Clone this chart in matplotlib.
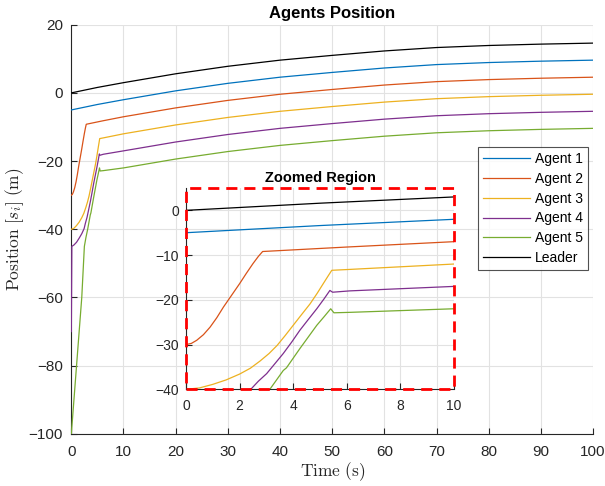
import matplotlib
matplotlib.use("Agg")
import matplotlib.pyplot as plt
from matplotlib.patches import Rectangle

plt.rcParams['font.family'] = ['Liberation Sans', 'DejaVu Sans']
plt.rcParams['mathtext.fontset'] = 'cm'

# ---- data ----
t_leader = [0, 5, 10, 20, 30, 40, 50, 60, 70, 80, 90, 100]
leader = [0, 1.6, 3.0, 5.6, 7.8, 9.6, 11.0, 12.3, 13.3, 13.9, 14.3, 14.6]

t_a1 = [0, 5, 10, 20, 30, 40, 50, 60, 70, 80, 90, 100]
agent1 = [-5, -3.4, -2.0, 0.6, 2.8, 4.6, 6.0, 7.3, 8.3, 8.9, 9.3, 9.6]

t_a2 = [0, 0.2, 0.4, 0.65, 0.9, 1.15, 1.4, 1.7, 2.0, 2.25, 2.5, 2.7, 2.86, 6.0, 10,
        20, 30, 40, 50, 60, 70, 80, 90, 100]
agent2 = [-30, -29.75, -29.05, -27.8, -26.1, -24.0, -21.6, -19.0, -16.4, -14.1, -11.9,
          -10.3, -9.2, -8.2, -7.0, -4.4, -2.2, -0.4, 1.0, 2.3, 3.3, 3.9, 4.3, 4.6]

t_a3 = [0, 0.5, 1.0, 1.5, 2.0, 2.4, 2.76, 3.1, 3.4, 3.7, 4.0, 4.3, 4.63, 4.9, 5.12,
        5.3, 5.44, 6.12, 10, 20, 30, 40, 50, 60, 70, 80, 90, 100]
agent3 = [-40, -39.7, -38.9, -37.9, -36.6, -35.3, -33.7, -32.0, -30.2, -28.0, -25.7,
          -23.4, -20.9, -18.5, -16.4, -14.7, -13.4, -13.2, -12.0, -9.4, -7.2, -5.4,
          -4.0, -2.7, -1.7, -1.1, -0.7, -0.4]

t_a4 = [0, 0.1, 0.5, 1.0, 1.5, 2.0, 2.45, 2.7, 3.01, 3.3, 3.63, 3.95, 4.25, 4.55,
        4.88, 5.15, 5.37, 5.47, 6.12, 10, 20, 30, 40, 50, 60, 70, 80, 90, 100]
agent4 = [-70, -45, -44.6, -43.8, -42.6, -41.3, -39.8, -38.2, -36.5, -34.4, -32.0,
          -29.4, -26.8, -24.5, -22.0, -19.8, -17.9, -18.3, -18.0, -17.0, -14.4, -12.2,
          -10.4, -9.0, -7.7, -6.7, -6.1, -5.7, -5.4]

t_a5 = [0, 1.0, 2.0, 2.5, 2.8, 3.13, 3.63, 3.75, 4.25, 4.88, 5.15, 5.40, 5.52, 6.12,
        10, 20, 30, 40, 50, 60, 70, 80, 90, 100]
agent5 = [-100, -80, -60, -45, -42.4, -40, -35.8, -35.2, -30.9, -25.7, -23.8, -22.0,
          -22.9, -22.8, -22.0, -19.4, -17.2, -15.4, -14.0, -12.7, -11.7, -11.1, -10.7,
          -10.4]

series = [
    ("Agent 1", t_a1, agent1, "#0072BD"),
    ("Agent 2", t_a2, agent2, "#D95319"),
    ("Agent 3", t_a3, agent3, "#EDB120"),
    ("Agent 4", t_a4, agent4, "#7E2F8E"),
    ("Agent 5", t_a5, agent5, "#77AC30"),
    ("Leader", t_leader, leader, "#000000"),
]

main_xticks = list(range(0, 101, 10))
main_yticks = list(range(-100, 21, 20))
inset_xticks = [0, 2, 4, 6, 8, 10]
inset_yticks = [-40, -30, -20, -10, 0]

axc = "#262626"
gridc = "#e2e2e2"

fig = plt.figure(figsize=(6.05, 4.86), dpi=100)
ax = fig.add_axes([0.1179, 0.1072, 0.8623, 0.842])

for name, t, v, c in series:
    ax.plot(t, v, color=c, lw=0.9, label=name, zorder=3)

ax.set_xlim(0, 100)
ax.set_ylim(-100, 20)
ax.set_xticks(main_xticks)
ax.set_yticks(main_yticks)
ax.grid(True, color=gridc, lw=0.8)
ax.set_axisbelow(True)
for s in ["top", "right"]:
    ax.spines[s].set_visible(False)
for s in ["left", "bottom"]:
    ax.spines[s].set_color(axc)
    ax.spines[s].set_linewidth(0.8)
ax.tick_params(direction="in", length=4, width=0.8, colors=axc, labelsize=11,
               labelcolor=axc)
ax.tick_params(axis="x", pad=8)
ax.tick_params(axis="y", pad=6)
ax.set_title("Agents Position", fontsize=12, fontweight="bold", pad=4.5)
ax.set_xlabel(r"$\mathrm{Time\ (s)}$", fontsize=12.5, color=axc, labelpad=1)
ax.set_ylabel(r"$\mathrm{Position}\ [s_i]\ \mathrm{(m)}$", fontsize=12.5, color=axc,
              labelpad=2)

leg = ax.legend(loc="upper right", bbox_to_anchor=(0.991, 0.701), fontsize=10,
                frameon=True, fancybox=False, handlelength=3.4, handletextpad=0.35,
                borderpad=0.35, labelspacing=0.42, borderaxespad=0)
leg.get_frame().set_edgecolor(axc)
leg.get_frame().set_linewidth(0.8)

# inset
axi = fig.add_axes([0.3074, 0.199, 0.443, 0.4142])
axi.patch.set_alpha(0)
for name, t, v, c in series:
    axi.plot(t, v, color=c, lw=0.9)
axi.set_xlim(0, 10)
axi.set_ylim(-40, 5)
axi.set_xticks(inset_xticks)
axi.set_yticks(inset_yticks)
axi.grid(True, color=gridc, lw=0.8)
axi.set_axisbelow(True)
for s in ["top", "right"]:
    axi.spines[s].set_visible(False)
for s in ["left", "bottom"]:
    axi.spines[s].set_color(axc)
    axi.spines[s].set_linewidth(0.8)
axi.tick_params(direction="in", length=4, width=0.8, colors=axc, labelsize=10,
                labelcolor=axc, pad=5)
axi.tick_params(axis="x", pad=7)
axi.set_title("Zoomed Region", fontsize=10.5, fontweight="bold", pad=4)
rect = Rectangle((0, 0), 1, 1, transform=axi.transAxes, fill=False,
                 edgecolor="#ff0000", lw=2.0, linestyle=(0, (4, 2.5)),
                 clip_on=False, zorder=10)
axi.add_patch(rect)

fig.savefig("out.png", dpi=100)
